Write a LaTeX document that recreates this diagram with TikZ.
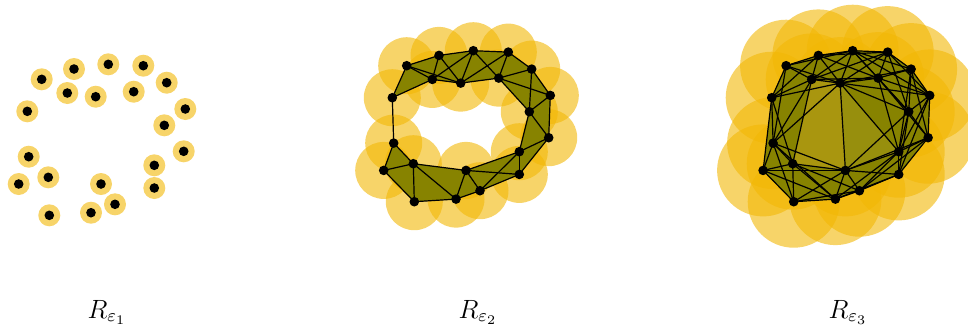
\documentclass[tikz,border=0pt]{standalone}
\usepackage{xcolor}
\definecolor{ballGold}{HTML}{F2B705}
\definecolor{cplxOlive}{HTML}{878300}
\definecolor{backOlive}{HTML}{B09A12}
\definecolor{midOlive}{HTML}{9A9210}
\usepackage{tikz}

% the point cloud (pixels of the left panel, y pointing down)
\def\ptsx{{41.7,74,108.3,143.3,166.7,67.3,95.7,133.7,27.3,185.3,164.3,28.7,183.7,154.3,18.7,48.3,101,154.3,49.3,91,115}}
\def\ptsy{{79.3,69,64.3,65.7,82.7,93,96.7,91.7,111.3,109,125.3,156.7,151.3,165.3,184,177.3,184,188,215.3,212.7,204.3}}

\tikzset{
  ball/.style={fill=ballGold, fill opacity=0.6},
  simplex/.style={fill=cplxOlive},
  edge/.style={draw=black, line width=0.6pt},
  vertex/.style={fill=black},
  panellabel/.style={font=\large, scale=1.1, anchor=base},
}

% #1 prefix, #2 shift, #3 ball radius (px), #4 longest edge (px), #5 drawn over the triangles
\newcommand{\ripspanel}[5]{%
  \begin{scope}[shift={#2}]
    % balls round the points
    \foreach \k in {0,...,20}{
      \pgfmathsetmacro\px{\ptsx[\k]}
      \pgfmathsetmacro\py{\ptsy[\k]}
      \coordinate (#1\k) at (\px,\py);
      \fill[ball] (#1\k) circle[radius=#3*0.5pt];
    }
    % filled triangles
    \foreach \i in {0,...,20}{\foreach \j in {0,...,20}{
      \ifnum\j>\i\relax
        \pgfmathsetmacro\dij{veclen(\ptsx[\i]-\ptsx[\j],\ptsy[\i]-\ptsy[\j])}
        \ifdim\dij pt<#4pt\relax
          \foreach \k in {0,...,20}{
            \ifnum\k>\j\relax
              \pgfmathsetmacro\dik{veclen(\ptsx[\i]-\ptsx[\k],\ptsy[\i]-\ptsy[\k])}
              \pgfmathsetmacro\djk{veclen(\ptsx[\j]-\ptsx[\k],\ptsy[\j]-\ptsy[\k])}
              \ifdim\dik pt<#4pt\relax\ifdim\djk pt<#4pt\relax
                \fill[simplex] (#1\i) -- (#1\j) -- (#1\k) -- cycle;
              \fi\fi
            \fi}
        \fi
      \fi}}
    #5
    % edges
    \foreach \i in {0,...,20}{\foreach \j in {0,...,20}{
      \ifnum\j>\i\relax
        \pgfmathsetmacro\dij{veclen(\ptsx[\i]-\ptsx[\j],\ptsy[\i]-\ptsy[\j])}
        \ifdim\dij pt<#4pt\relax
          \draw[edge] (#1\i) -- (#1\j);
        \fi
      \fi}}
    % the points
    \foreach \k in {0,...,20}
      \fill[vertex] (#1\k) circle[radius=2.4pt];
  \end{scope}}

\begin{document}
\begin{tikzpicture}[x=0.5pt, y=-0.5pt]
  \useasboundingbox (0,0) rectangle (968,329);
  % three scales
  \ripspanel{a}{(0,0)}{11}{22}{}
  \ripspanel{b}{(365,-13.6)}{28.5}{58}{}
  \ripspanel{c}{(744.4,-13.6)}{46}{92}{%
    % the lighter back faces seen through the middle
    \fill[backOlive, fill opacity=0.85] (c6) -- (c16) -- (c15) -- (c5) -- cycle;
    \fill[midOlive, fill opacity=0.85] (c6) -- (c13) -- (c16) -- cycle;
  }
  % captions
  \node[panellabel] (lab1) at (107,318) {$R_{\varepsilon_1}$};
  \node[panellabel] (lab2) at (478,318) {$R_{\varepsilon_2}$};
  \node[panellabel] (lab3) at (848,318) {$R_{\varepsilon_3}$};
\end{tikzpicture}
\end{document}
